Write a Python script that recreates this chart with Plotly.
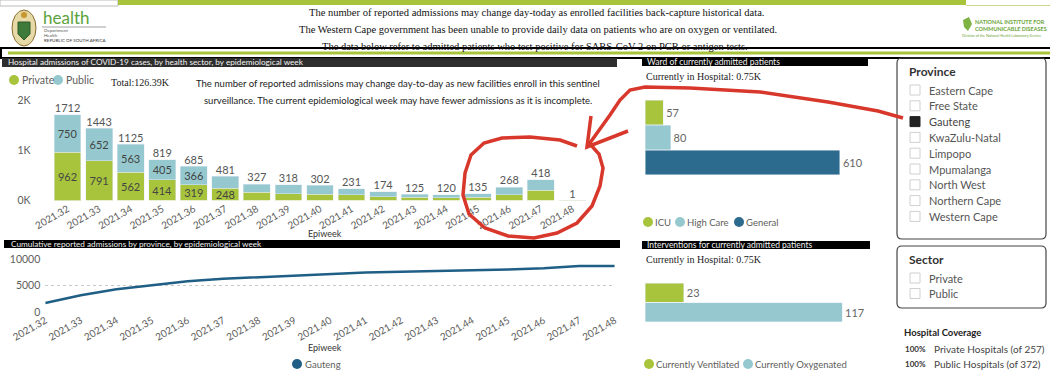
import plotly.graph_objects as go

W, H = 1050, 376
def fx(p): return p / W
def fy(p): return 1 - p / H

# ---------------- data ----------------
weeks = ["2021.32", "2021.33", "2021.34", "2021.35", "2021.36", "2021.37", "2021.38",
         "2021.39", "2021.40", "2021.41", "2021.42", "2021.43", "2021.44", "2021.45",
         "2021.46", "2021.47", "2021.48"]
private = [962, 791, 562, 414, 319, 248, 163, 135, 130, 112, 77, 62, 60, 68, 117, 202, 1]
public = [750, 652, 563, 405, 366, 233, 164, 183, 172, 119, 97, 63, 60, 67, 151, 216, 0]
totals = [1712, 1443, 1125, 819, 685, 481, 327, 318, 302, 231, 174, 125, 120, 135, 268, 418, 1]
private_labels = ["962", "791", "562", "414", "319", "248", "", "", "", "", "", "", "", "", "", "", ""]
public_labels = ["750", "652", "563", "405", "366", "", "", "", "", "", "", "", "", "", "", "", ""]

cumulative = [1712, 3155, 4280, 5099, 5784, 6265, 6592, 6910, 7212, 7443, 7617, 7742,
              7862, 7997, 8265, 8683, 8684]
cum_ticks = [0, 5000, 10000]
cum_ticktext = ["0", "5000", "10000"]

ward_names = ["ICU", "High Care", "General"]
ward_values = [57, 80, 610]

interv_names = ["Currently Ventilated", "Currently Oxygenated"]
interv_values = [23, 117]

provinces = ["Eastern Cape", "Free State", "Gauteng", "KwaZulu-Natal", "Limpopo",
             "Mpumalanga", "North West", "Northern Cape", "Western Cape"]
sectors = ["Private", "Public"]

# ---------------- style ----------------
GREEN = "#A8C43C"
LBLUE = "#95C9CF"
DBLUE = "#2C6A8E"
LINEC = "#1F5F86"
PBI = "Lato, 'Open Sans', sans-serif"
SERIF = "'Liberation Serif', 'Times New Roman', serif"
GREY = "#605E5C"

fig = go.Figure()

# Hospital admissions stacked bars
fig.add_trace(go.Bar(x=weeks, y=private, name="Private", marker_color=GREEN,
                     text=private_labels, textposition="inside", insidetextanchor="middle",
                     constraintext="none", textangle=0,
                     textfont=dict(size=11, color="#444", family=PBI), showlegend=False,
                     xaxis="x", yaxis="y"))
fig.add_trace(go.Bar(x=weeks, y=public, name="Public", marker_color=LBLUE,
                     text=public_labels, textposition="inside", insidetextanchor="middle",
                     constraintext="none", textangle=0,
                     textfont=dict(size=11, color="#444", family=PBI), showlegend=False,
                     xaxis="x", yaxis="y"))
fig.add_trace(go.Scatter(x=weeks, y=totals, mode="text", text=[str(t) for t in totals],
                         textposition="top center", cliponaxis=False,
                         textfont=dict(size=11, color="#555", family=PBI),
                         showlegend=False, hoverinfo="skip", xaxis="x", yaxis="y"))

# Cumulative line
fig.add_trace(go.Scatter(x=weeks, y=cumulative, mode="lines", name="Gauteng",
                         line=dict(color=LINEC, width=2.5), showlegend=False,
                         xaxis="x2", yaxis="y2"))

# Ward bars
ward_colors = [GREEN, LBLUE, DBLUE]
for n, v, c in zip(ward_names, ward_values, ward_colors):
    fig.add_trace(go.Bar(y=[n], x=[v], orientation="h", name=n, marker_color=c,
                         width=0.97, text=[str(v)], textposition="outside",
                         constraintext="none",
                         textfont=dict(size=11, color="#666", family=PBI),
                         cliponaxis=False, showlegend=False, xaxis="x3", yaxis="y3"))

# Intervention bars
interv_colors = [GREEN, LBLUE]
for n, v, c in zip(interv_names, interv_values, interv_colors):
    fig.add_trace(go.Bar(y=[n], x=[v], orientation="h", name=n, marker_color=c,
                         width=0.97, text=[str(v)], textposition="outside",
                         constraintext="none",
                         textfont=dict(size=11, color="#666", family=PBI),
                         cliponaxis=False, showlegend=False, xaxis="x4", yaxis="y4"))

shapes = []
ann = []

def rect(x0, y0, x1, y1, fill=None, line=None, lw=0, layer="above"):
    d = dict(type="rect", xref="paper", yref="paper", x0=fx(x0), x1=fx(x1),
             y0=fy(y1), y1=fy(y0), layer=layer, line=dict(width=lw, color=line or "rgba(0,0,0,0)"))
    if fill:
        d["fillcolor"] = fill
    shapes.append(d)

def hline(x0, x1, y, color, w):
    shapes.append(dict(type="line", xref="paper", yref="paper", x0=fx(x0), x1=fx(x1),
                       y0=fy(y), y1=fy(y), line=dict(color=color, width=w)))

def text(x, y, s, size=10, color="#222", family=PBI, anchor="left", **kw):
    ann.append(dict(x=fx(x), y=fy(y), xref="paper", yref="paper", text=s, showarrow=False,
                    xanchor=anchor, yanchor="middle", font=dict(size=size, color=color, family=family), **kw))

def dot(cx, cy, color, r=5):
    shapes.append(dict(type="circle", xref="paper", yref="paper", xsizemode="pixel",
                       ysizemode="pixel", xanchor=fx(cx), yanchor=fy(cy), x0=-r, x1=r,
                       y0=-r, y1=r, fillcolor=color, line=dict(width=0)))

def rrect(x0, y0, x1, y1, r, color, w):
    pts = lambda x, y: f"{fx(x):.5f},{fy(y):.5f}"
    p = (f"M {pts(x0+r, y0)} L {pts(x1-r, y0)} Q {pts(x1, y0)} {pts(x1, y0+r)} "
         f"L {pts(x1, y1-r)} Q {pts(x1, y1)} {pts(x1-r, y1)} L {pts(x0+r, y1)} "
         f"Q {pts(x0, y1)} {pts(x0, y1-r)} L {pts(x0, y0+r)} Q {pts(x0, y0)} {pts(x0+r, y0)} Z")
    shapes.append(dict(type="path", xref="paper", yref="paper", path=p,
                       line=dict(color=color, width=w)))

def poly(points, color, w):
    p = "M " + " L ".join(f"{fx(x):.5f},{fy(y):.5f}" for x, y in points)
    shapes.append(dict(type="path", xref="paper", yref="paper", path=p,
                       line=dict(color=color, width=w)))

# ---- page header ----
rect(0, 0, 118, 6, line="#BBBBBB", lw=1)
rect(118, 0, 966, 5, fill=GREEN)
hline(966, 1050, 5.5, "#C9DB8A", 1)
# coat of arms (simplified)
shapes.append(dict(type="circle", xref="paper", yref="paper", x0=fx(12), x1=fx(36),
                   y0=fy(46), y1=fy(10), fillcolor="#E7D9A6", line=dict(color="#8B6B2E", width=1)))
shapes.append(dict(type="path", xref="paper", yref="paper",
                   path=f"M {fx(18)},{fy(22)} L {fx(30)},{fy(22)} L {fx(30)},{fy(34)} L {fx(24)},{fy(40)} L {fx(18)},{fy(34)} Z",
                   fillcolor="#3E7A3A", line=dict(color="#2E5A2A", width=1)))
dot(24, 15, "#C8962E", r=3)
text(41, 17, "health", size=17, color="#5BA33B", family="Lato, sans-serif")
hline(42, 106, 27, "#888888", 0.8)
text(42, 31, "Department", size=4.5, color="#555")
text(42, 35.5, "Health", size=4.5, color="#555")
text(42, 40, "REPUBLIC OF SOUTH AFRICA", size=4.5, color="#333")
text(536, 13, "The number of reported admissions may change day-today as enrolled facilities back-capture historical data.",
     size=10.5, color="#111", family=SERIF, anchor="center")
text(538, 30, "The Western Cape government has been unable to provide daily data on patients who are on oxygen or ventilated.",
     size=10.5, color="#111", family=SERIF, anchor="center")
text(535, 46, "The data below refer to admitted patients who test positive for SARS-CoV-2 on PCR or antigen tests.",
     size=10.5, color="#111", family=SERIF, anchor="center")
# NICD logo (simplified)
shapes.append(dict(type="path", xref="paper", yref="paper",
                   path=f"M {fx(963)},{fy(20)} L {fx(969)},{fy(17)} L {fx(972)},{fy(24)} L {fx(968)},{fy(31)} L {fx(964)},{fy(27)} Z",
                   fillcolor="#7DB343", line=dict(width=0)))
text(973, 22, "<b>NATIONAL INSTITUTE FOR</b>", size=5.5, color="#6BA539")
text(973, 29, "<b>COMMUNICABLE DISEASES</b>", size=5.5, color="#6BA539")
text(960, 36, "Division of the National Health Laboratory Service", size=3.6, color="#6BA539")

# black frame with green band
rect(1, 48, 1052, 58, line="#000000", lw=2)
hline(8, 1050, 53, GREEN, 3)

# ---- panel headers ----
rect(2, 58, 617, 67, fill="#2E2E2E")
text(6, 62.5, "Hospital admissions of COVID-19 cases, by health sector, by epidemiological week",
     size=8.2, color="#F2F2F2")
rect(4, 240, 620, 248, fill="#000000")
text(9, 244, "Cumulative reported admissions by province, by epidemiological week",
     size=8.2, color="#F2F2F2")
rect(642, 57, 868, 66, fill="#000000")
text(645, 61.5, "Ward of currently admitted patients", size=8.5, color="#F2F2F2")
rect(642, 241, 870, 249, fill="#000000")
text(645, 245, "Interventions for currently admitted patients", size=8.5, color="#F2F2F2")

# ---- bar chart extras ----
dot(14, 80, GREEN)
text(20, 80, "Private", size=10.5, color=GREY)
dot(58, 80, LBLUE)
text(64, 80, "Public", size=10.5, color=GREY)
text(109, 83, "Total:126.39K", size=10, color="#222", family=SERIF)
text(398, 84, "The number of reported admissions may change day-to-day as new facilities enroll in this sentinel",
     size=9.5, color="#222", anchor="center")
text(398, 100, "surveillance. The current epidemiological week may have fewer admissions as it is incomplete.",
     size=9.5, color="#222", anchor="center")
text(325, 233, "Epiweek", size=9, color="#333", anchor="center")

# ---- line chart extras ----
text(325, 347, "Epiweek", size=9, color="#333", anchor="center")
dot(297, 364, LINEC)
text(303, 364, "Gauteng", size=9.5, color=GREY)

# ---- ward extras ----
text(644, 77, "Currently in Hospital: 0.75K", size=10, color="#222", family=SERIF)
for n, c, lx in zip(ward_names, ward_colors, [648, 680, 739]):
    dot(lx, 222, c)
    text(lx + 5, 222, n, size=9.5, color=GREY)

# ---- intervention extras ----
text(644, 259, "Currently in Hospital: 0.75K", size=10, color="#222", family=SERIF)
for n, c, lx in zip(interv_names, interv_colors, [649, 748]):
    dot(lx, 364, c)
    text(lx + 5, 364, n, size=9.5, color=GREY)

# ---- province slicer ----
rrect(897, 58, 1046, 239, 5, "#444444", 1.2)
text(907, 72, "<b>Province</b>", size=12, color="#333")
for i, p in enumerate(provinces):
    cy = 90 + i * 15.8
    filled = p == "Gauteng"
    rect(910, cy - 5, 920, cy + 5, fill="#222222" if filled else "#FFFFFF",
         line="#222222" if filled else "#D0D0D0", lw=1)
    text(927, cy, p, size=11, color="#555" if not filled else "#444")

# ---- sector slicer ----
rrect(897, 246, 1046, 308, 5, "#444444", 1.2)
text(907, 259, "<b>Sector</b>", size=12, color="#333")
for i, s in enumerate(sectors):
    cy = 278 + i * 15.5
    rect(910, cy - 5, 920, cy + 5, fill="#FFFFFF", line="#D0D0D0", lw=1)
    text(927, cy, s, size=11, color="#555")

text(902, 332, "<b>Hospital Coverage</b>", size=9.5, color="#222")
text(903, 349, "<b>100%</b>", size=8, color="#333")
text(932, 349, "Private Hospitals (of 257)", size=10, color="#444")
text(903, 364, "<b>100%</b>", size=8, color="#333")
text(932, 364, "Public Hospitals (of 372)", size=10, color="#444")

# ---- red hand-drawn annotation ----
RED = "#D8382B"
poly([(577, 146), (560, 140), (530, 137), (502, 138), (484, 143), (471, 155), (465, 173),
      (463, 195), (469, 214), (485, 228), (508, 236), (534, 238), (557, 233), (577, 223),
      (592, 206), (600, 186), (603, 168), (599, 154), (590, 144)], RED, 3.5)
poly([(903, 118), (878, 111), (828, 102), (760, 92), (690, 88), (645, 87), (630, 90),
      (620, 100), (610, 115), (587, 147)], RED, 3.5)
poly([(591, 116), (587, 147), (628, 131)], RED, 3.5)

fig.update_layout(
    width=W, height=H, margin=dict(l=0, r=0, t=0, b=0),
    paper_bgcolor="white", plot_bgcolor="white",
    barmode="stack", bargap=0.15, showlegend=False,
    shapes=shapes, annotations=ann,
    font=dict(family=PBI, color=GREY),
    xaxis=dict(domain=[fx(39.5), fx(600.5)], type="category", tickangle=-30,
               tickfont=dict(size=10, color=GREY), showline=False, ticks="",
               showgrid=False, automargin=False, anchor="y"),
    yaxis=dict(domain=[fy(200.5), fy(100.5)], range=[0, 2000], tickvals=[0, 1000, 2000],
               ticktext=["0K", "1K", "2K"], tickfont=dict(size=10.5, color=GREY),
               showgrid=False, zeroline=False, showline=False, automargin=False,
               ticklabelstandoff=8, anchor="x"),
    xaxis2=dict(domain=[fx(45.25), fx(614.75)], type="category", tickangle=-30,
                tickfont=dict(size=10, color=GREY), showline=False, ticks="",
                showgrid=False, automargin=False, anchor="y2"),
    yaxis2=dict(domain=[fy(312), fy(259)], range=[0, 10000], tickvals=cum_ticks,
                ticktext=cum_ticktext,
                tickfont=dict(size=10.5, color=GREY), showgrid=True, gridcolor="#C8C8C8",
                griddash="dot", gridwidth=1, zeroline=False, showline=False,
                automargin=False, ticklabelstandoff=4, anchor="x2"),
    xaxis3=dict(domain=[fx(645), fx(870)], range=[0, 704], visible=False, anchor="y3"),
    yaxis3=dict(domain=[fy(175), fy(100)], type="category", categoryorder="array",
                categoryarray=ward_names, autorange="reversed", visible=False, anchor="x3"),
    xaxis4=dict(domain=[fx(645), fx(870)], range=[0, 133.6], visible=False, anchor="y4"),
    yaxis4=dict(domain=[fy(322), fy(283)], type="category", categoryorder="array",
                categoryarray=interv_names, autorange="reversed", visible=False, anchor="x4"),
)

fig.write_html("out.html", config={"displayModeBar": False},
               post_script="document.body.style.margin='0';document.body.style.overflow='hidden';")
